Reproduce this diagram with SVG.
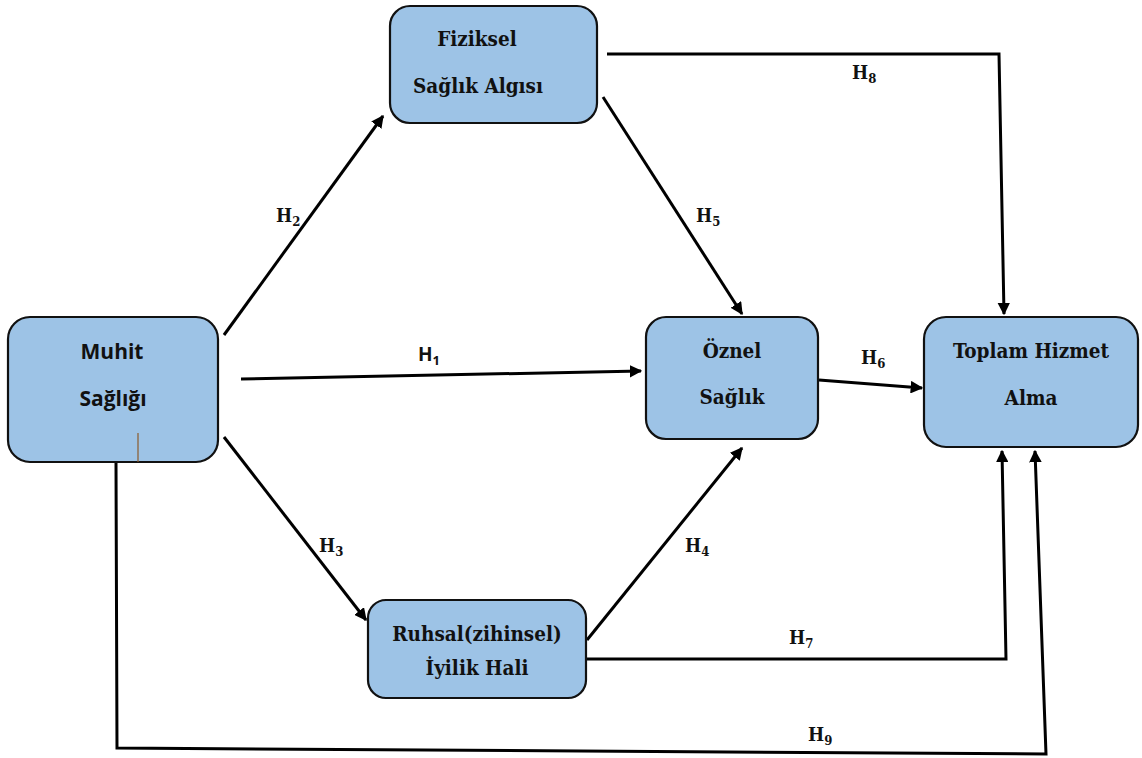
<svg xmlns="http://www.w3.org/2000/svg" width="1142" height="758" viewBox="0 0 1142 758">
  <style>
    .box { fill: #9dc3e6; stroke: #111; stroke-width: 2.2; }
    .serif { font-family: 'DejaVu Serif Condensed', 'DejaVu Serif', serif; font-weight: 700; font-size: 20.5px; fill: #111; text-anchor: middle; }
    .sans { font-family: 'Open Sans', 'Liberation Sans', sans-serif; font-weight: 700; font-size: 21px; fill: #111; text-anchor: middle; }
    .edge { fill: none; stroke: #000; stroke-width: 3; stroke-linejoin: miter; }
    .lbl { font-family: 'DejaVu Serif Condensed', 'DejaVu Serif', serif; font-weight: 700; font-size: 19px; fill: #111; }
    .lbls { font-family: 'Open Sans', 'Liberation Sans', sans-serif; font-weight: 700; font-size: 19px; fill: #111; }
    .sub { font-size: 13px; }
  </style>
  <defs>
    <marker id="arrow" viewBox="0 0 10 10" refX="9" refY="5" markerWidth="4.2" markerHeight="4.2" orient="auto" markerUnits="strokeWidth">
      <path d="M0,0 L10,5 L0,10 Z" fill="#000"/>
    </marker>
  </defs>

  <!-- connectors -->
  <g id="connectors">
    <polyline class="edge" points="607,54 999,54 1004,314" marker-end="url(#arrow)"/>
    <line class="edge" x1="603" y1="97" x2="742" y2="314" marker-end="url(#arrow)"/>
    <line class="edge" x1="224" y1="335" x2="383" y2="116" marker-end="url(#arrow)"/>
    <line class="edge" x1="241" y1="379" x2="641" y2="371" marker-end="url(#arrow)"/>
    <line class="edge" x1="224" y1="437" x2="366" y2="620" marker-end="url(#arrow)"/>
    <line class="edge" x1="587" y1="640" x2="742" y2="448" marker-end="url(#arrow)"/>
    <line class="edge" x1="819" y1="380" x2="922" y2="388" marker-end="url(#arrow)"/>
    <polyline class="edge" points="587,659 1006,659 1002,451" marker-end="url(#arrow)"/>
    <polyline class="edge" points="116,463 117,748 1046,754 1035,451" marker-end="url(#arrow)"/>

    <text class="lbl" x="852" y="79">H<tspan class="sub" dy="4">8</tspan></text>
    <text class="lbl" x="696" y="222">H<tspan class="sub" dy="4">5</tspan></text>
    <text class="lbl" x="276" y="222">H<tspan class="sub" dy="4">2</tspan></text>
    <text class="lbls" x="418" y="361">H<tspan class="sub" dy="4">1</tspan></text>
    <text class="lbl" x="319" y="552">H<tspan class="sub" dy="4">3</tspan></text>
    <text class="lbl" x="685" y="552">H<tspan class="sub" dy="4">4</tspan></text>
    <text class="lbl" x="861" y="364">H<tspan class="sub" dy="4">6</tspan></text>
    <text class="lbl" x="789" y="644">H<tspan class="sub" dy="4">7</tspan></text>
    <text class="lbl" x="808" y="741">H<tspan class="sub" dy="4">9</tspan></text>
  </g>

  <g id="muhit">
    <rect class="box" x="8" y="317" width="210" height="145" rx="22"/>
    <text class="sans" x="112" y="359">Muhit</text>
    <text class="sans" x="113" y="406">Sağlığı</text>
    <line x1="138" y1="433" x2="138" y2="462" stroke="#8b5a2b" stroke-width="1.2"/>
  </g>

  <g id="fiziksel">
    <rect class="box" x="390" y="6" width="207" height="117" rx="20"/>
    <text class="serif" x="477" y="46">Fiziksel</text>
    <text class="serif" x="478" y="93">Sağlık Algısı</text>
  </g>

  <g id="ruhsal">
    <rect class="box" x="368" y="600" width="218" height="98" rx="18"/>
    <text class="serif" x="477" y="641">Ruhsal(zihinsel)</text>
    <text class="serif" x="477" y="675">İyilik Hali</text>
  </g>

  <g id="oznel">
    <rect class="box" x="646" y="317" width="172" height="122" rx="20"/>
    <text class="serif" x="732" y="358">Öznel</text>
    <text class="serif" x="732" y="404">Sağlık</text>
  </g>

  <g id="toplam">
    <rect class="box" x="924" y="317" width="214" height="130" rx="22"/>
    <text class="serif" x="1031" y="358">Toplam Hizmet</text>
    <text class="serif" x="1031" y="405">Alma</text>
  </g>
</svg>
